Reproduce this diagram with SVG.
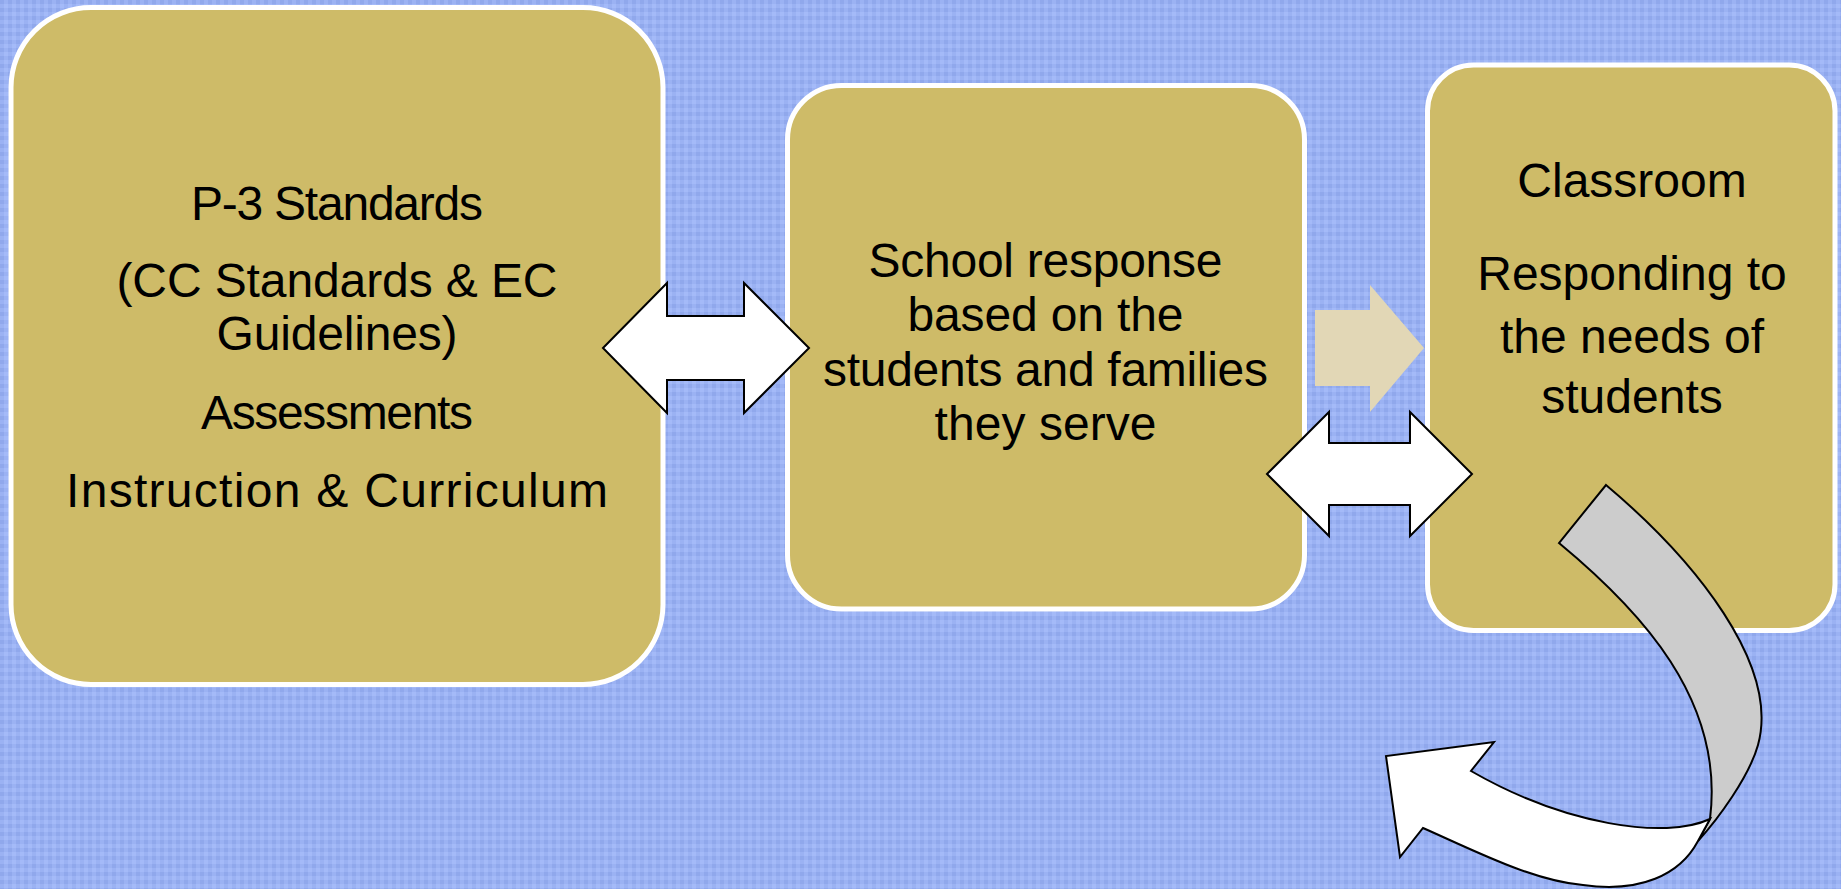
<svg xmlns="http://www.w3.org/2000/svg" width="1841" height="889" viewBox="0 0 1841 889">
<defs>
<pattern id="bg" width="8" height="8" patternUnits="userSpaceOnUse">
<rect width="8" height="8" fill="#9bb2f3"/>
<rect x="0" y="0" width="4" height="4" fill="#90a8ec"/>
<rect x="4" y="4" width="4" height="4" fill="#a4baf8"/>
</pattern>
<style>
.box{fill:#cebb68;stroke:#ffffff;stroke-width:5}
.t{font-family:"Liberation Sans",Arial,sans-serif;font-size:48px;fill:#000000;text-anchor:middle}
.dbl{fill:#ffffff;stroke:#000000;stroke-width:2;stroke-linejoin:miter}
.curve{stroke:#000000;stroke-width:2;stroke-linejoin:miter}
</style>
</defs>
<rect width="1841" height="889" fill="url(#bg)"/>

<g id="node-standards">
<rect class="box" x="11" y="7.5" width="652" height="677" rx="80" ry="80"/>
<text class="t" x="337" y="220" textLength="292">P-3 Standards</text>
<text class="t" x="337" y="297" textLength="441">(CC Standards &amp; EC</text>
<text class="t" x="337" y="350" textLength="241">Guidelines)</text>
<text class="t" x="337" y="429" textLength="272">Assessments</text>
<text class="t" x="337" y="507" textLength="542">Instruction &amp; Curriculum</text>
</g>

<g id="node-school">
<rect class="box" x="787.5" y="85.5" width="517" height="523.5" rx="54" ry="54"/>
<text class="t" x="1045.5" y="277" textLength="354">School response</text>
<text class="t" x="1045.5" y="331" textLength="276">based on the</text>
<text class="t" x="1045.5" y="386" textLength="445">students and families</text>
<text class="t" x="1045.5" y="440" textLength="222">they serve</text>
</g>

<g id="node-classroom">
<rect class="box" x="1427.5" y="65" width="407.5" height="565.5" rx="46" ry="46"/>
<text class="t" x="1632" y="197">Classroom</text>
<text class="t" x="1632" y="290">Responding to</text>
<text class="t" x="1632" y="353">the needs of</text>
<text class="t" x="1632" y="413">students</text>
</g>

<g id="connectors">
<polygon class="dbl" points="603,348 667,283 667,316 744,316 744,283 809,348 744,413 744,380 667,380 667,413"/>
<polygon fill="#e2d7b6" points="1315,310 1370,310 1370,285 1424,348 1370,412 1370,386 1315,386"/>
<polygon class="dbl" points="1267,474 1329,412 1329,443 1410,443 1410,412 1472,474 1410,536 1410,505 1329,505 1329,536"/>
<path class="curve" fill="#cccccc" d="M1606,485 C1695,560 1780,665 1758,745 C1749,777 1718,819 1698,841 L1710,819 C1725,700 1640,610 1559,543 Z"/>
<path class="curve" fill="#ffffff" d="M1710,819 C1665,840 1565,825 1471,771 L1494,742 L1386,756 L1400,857 L1423,828 C1473,850 1533,881 1583,885 C1640,893 1680,875 1698,841 Z"/>
</g>
</svg>
